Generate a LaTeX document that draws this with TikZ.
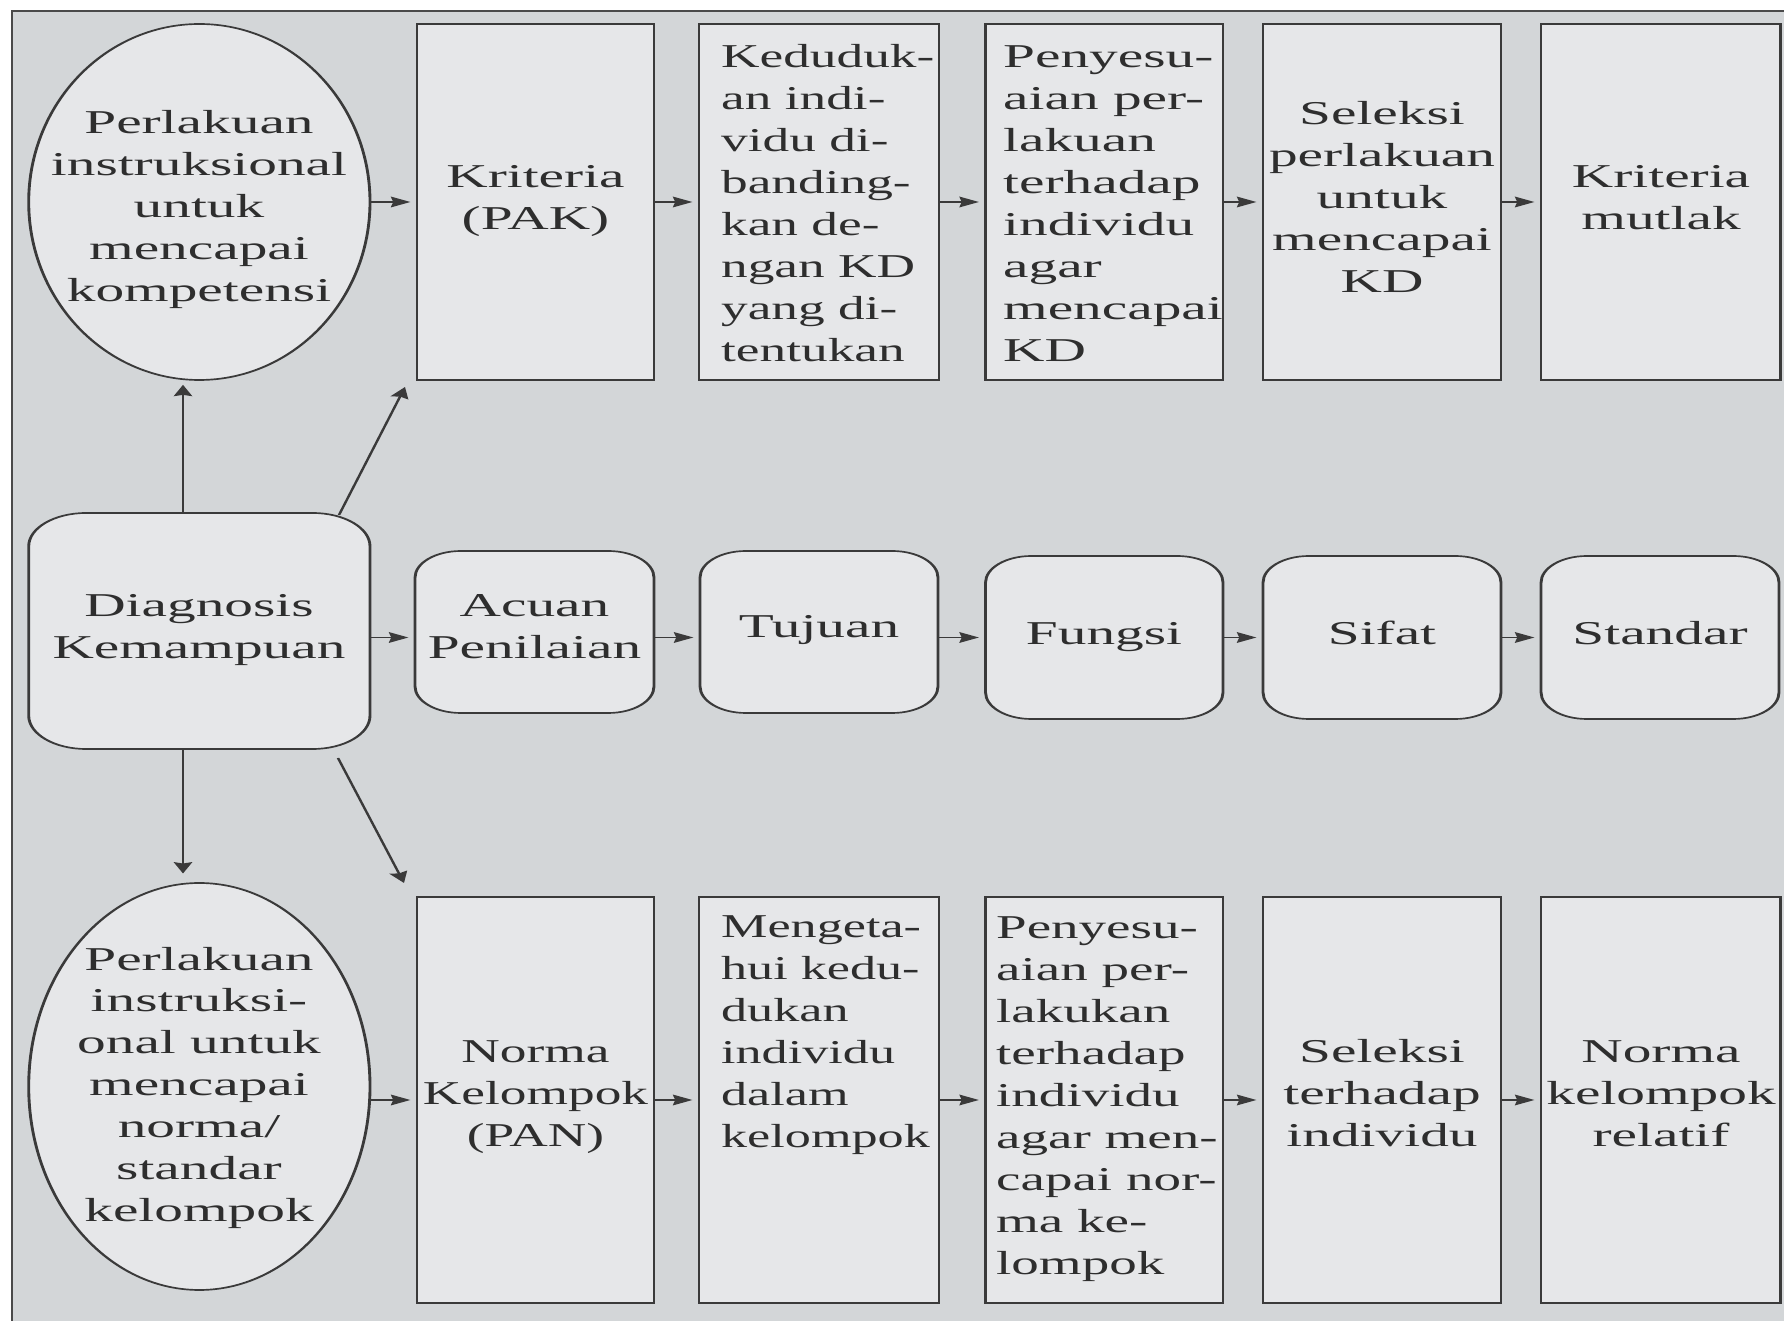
\documentclass[tikz,border=0pt]{standalone}
\usepackage{fontspec}
\setmainfont{Liberation Serif}
\newfontfamily\narrowA{Liberation Serif}[FakeStretch=0.93]
\newfontfamily\narrowB{Liberation Serif}[FakeStretch=0.91]
\newfontfamily\narrowC{Liberation Serif}[FakeStretch=0.96]
\usetikzlibrary{shapes.geometric,arrows.meta}
\definecolor{bgc}{HTML}{D3D6D8}
\definecolor{boxc}{HTML}{E6E7E9}
\definecolor{linec}{HTML}{3A3A3A}
\definecolor{txtc}{HTML}{2E2E2E}
\definecolor{framec}{HTML}{4A4A4A}
\tikzset{
  box/.style 2 args={rectangle, draw=linec, fill=boxc, line width=0.5pt, inner sep=0pt,
    minimum width={#1*0.174419pt}, minimum height={#2*0.3pt}},
  rbox/.style n args={3}{box={#1}{#2}, rounded corners=#3},
  ell/.style 2 args={ellipse, draw=linec, fill=boxc, line width=0.5pt, inner sep=0pt,
    minimum width={#1*0.174419pt}, minimum height={#2*0.3pt}},
  txt/.style={inner sep=0pt, text=txtc, font=\fontsize{10pt}{12.6pt}\selectfont},
  narrowtxt/.style={font=\narrowA\fontsize{10pt}{12.6pt}\selectfont},
  narrowertxt/.style={font=\narrowB\fontsize{10pt}{12.6pt}\selectfont},
  slimtxt/.style={font=\narrowC\fontsize{10pt}{12.6pt}\selectfont},
  ctxt/.style={txt, align=center, anchor=base},
  ltxt/.style={txt, align=left, anchor=base west},
  arr/.style={draw=linec, line width=0.45pt, -{Stealth[length=3.4pt,width=3.2pt,inset=0.4pt]}},
  harr/.style={arr, shorten >=0.9pt},
}
\begin{document}
\begin{tikzpicture}[x=0.3pt,y=-0.3pt]
\useasboundingbox (0,0) rectangle (1784,1321);
\fill[white] (0,0) rectangle (1784,1321);
\fill[bgc] (12,11) rectangle (1784,1321);
\draw[framec, line width=0.7pt] (12,1321) -- (12,11) -- (1784,11);
\begin{scope}[x=0.174419pt, transform canvas={xscale=1.72}]
  % top row
  \node[ell={341.3}{356}] (e1) at (199.35,202) {};
  \node[box={237}{356}] (t1) at (535.5,202) {};
  \node[box={240}{356}] (t2) at (819,202) {};
  \node[box={237.5}{356}] (t3) at (1104.25,202) {};
  \node[box={238}{356}] (t4) at (1382,202) {};
  \node[box={239.5}{356}] (t5) at (1660.75,202) {};
  % middle row
  \node[rbox={341.3}{236}{10pt}] (m0) at (199.35,631) {};
  \node[rbox={239}{162}{8pt}] (m1) at (534.5,632) {};
  \node[rbox={238}{162}{8pt}] (m2) at (819,632) {};
  \node[rbox={237.5}{163}{8pt}] (m3) at (1104.25,637.5) {};
  \node[rbox={238}{163}{8pt}] (m4) at (1382,637.5) {};
  \node[rbox={238}{163}{8pt}] (m5) at (1660,637.5) {};
  % bottom row
  \node[ell={341.3}{407}] (e2) at (199.35,1086.5) {};
  \node[box={237}{406}] (b1) at (535.5,1100) {};
  \node[box={240}{406}] (b2) at (819,1100) {};
  \node[box={237.5}{406}] (b3) at (1104.25,1100) {};
  \node[box={238}{406}] (b4) at (1382,1100) {};
  \node[box={239.5}{406}] (b5) at (1660.75,1100) {};

  % texts top (anchor = baseline of the last line)
  \node[ctxt] (te1) at (199,302) {Perlakuan\\instruksional\\untuk\\mencapai\\kompetensi};
  \node[ctxt] (tt1) at (535.5,230) {Kriteria\\(PAK)};
  \node[ltxt, narrowtxt] (tt2) at (720,362) {Keduduk-\\an indi-\\vidu di-\\banding-\\kan de-\\ngan KD\\yang di-\\tentukan};
  \node[ltxt] (tt3) at (1002,362) {Penyesu-\\aian per-\\lakuan\\terhadap\\individu\\agar\\mencapai\\KD};
  \node[ctxt] (tt4) at (1382,293) {Seleksi\\perlakuan\\untuk\\mencapai\\KD};
  \node[ctxt] (tt5) at (1661,230) {Kriteria\\mutlak};
  % texts middle
  \node[ctxt] (tm0) at (199,659) {Diagnosis\\Kemampuan};
  \node[ctxt] (tm1) at (534.5,659) {Acuan\\Penilaian};
  \node[ctxt] (tm2) at (819,638) {Tujuan};
  \node[ctxt] (tm3) at (1104,645) {Fungsi};
  \node[ctxt] (tm4) at (1382,645) {Sifat};
  \node[ctxt] (tm5) at (1660,645) {Standar};
  % texts bottom
  \node[ctxt] (te2) at (199,1222) {Perlakuan\\instruksi-\\onal untuk\\mencapai\\norma/\\standar\\kelompok};
  \node[ctxt, narrowtxt] (tb1) at (535.5,1147) {Norma\\Kelompok\\(PAN)};
  \node[ltxt, narrowertxt] (tb2) at (720,1148) {Mengeta-\\hui kedu-\\dukan\\individu\\dalam\\kelompok};
  \node[ltxt, slimtxt] (tb3) at (995,1274) {Penyesu-\\aian per-\\lakukan\\terhadap\\individu\\agar men-\\capai nor-\\ma ke-\\lompok};
  \node[ctxt] (tb4) at (1382,1147) {Seleksi\\terhadap\\individu};
  \node[ctxt] (tb5) at (1661,1147) {Norma\\kelompok\\relatif};

  % horizontal connectors
  \draw[harr] (e1.east) -- (t1.west);
  \draw[harr] (t1.east) -- (t2.west);
  \draw[harr] (t2.east) -- (t3.west);
  \draw[harr] (t3.east) -- (t4.west);
  \draw[harr] (t4.east) -- (t5.west);
  \draw[harr] (m0.east |- m3.center) -- (m1.west |- m3.center);
  \draw[harr] (m1.east |- m3.center) -- (m2.west |- m3.center);
  \draw[harr] (m2.east |- m3.center) -- (m3.west);
  \draw[harr] (m3.east) -- (m4.west);
  \draw[harr] (m4.east) -- (m5.west);
  \draw[harr] (e2.east |- b1.center) -- (b1.west);
  \draw[harr] (b1.east) -- (b2.west);
  \draw[harr] (b2.east) -- (b3.west);
  \draw[harr] (b3.east) -- (b4.west);
  \draw[harr] (b4.east) -- (b5.west);

  % vertical and diagonal connectors
  \coordinate (vx) at (183,0);
  \draw[arr, shorten >=1.2pt] (m0.north -| vx) -- (e1.south -| vx);
  \draw[arr, shorten >=2.6pt] (m0.south -| vx) -- (e2.north -| vx);
  \coordinate (du0) at (339,515);
  \coordinate (du1) at (405,387);
  \coordinate (dd0) at (338,758);
  \coordinate (dd1) at (404,883);
  \draw[arr] (du0) -- (du1);
  \draw[arr] (dd0) -- (dd1);
\end{scope}
\end{tikzpicture}
\end{document}
